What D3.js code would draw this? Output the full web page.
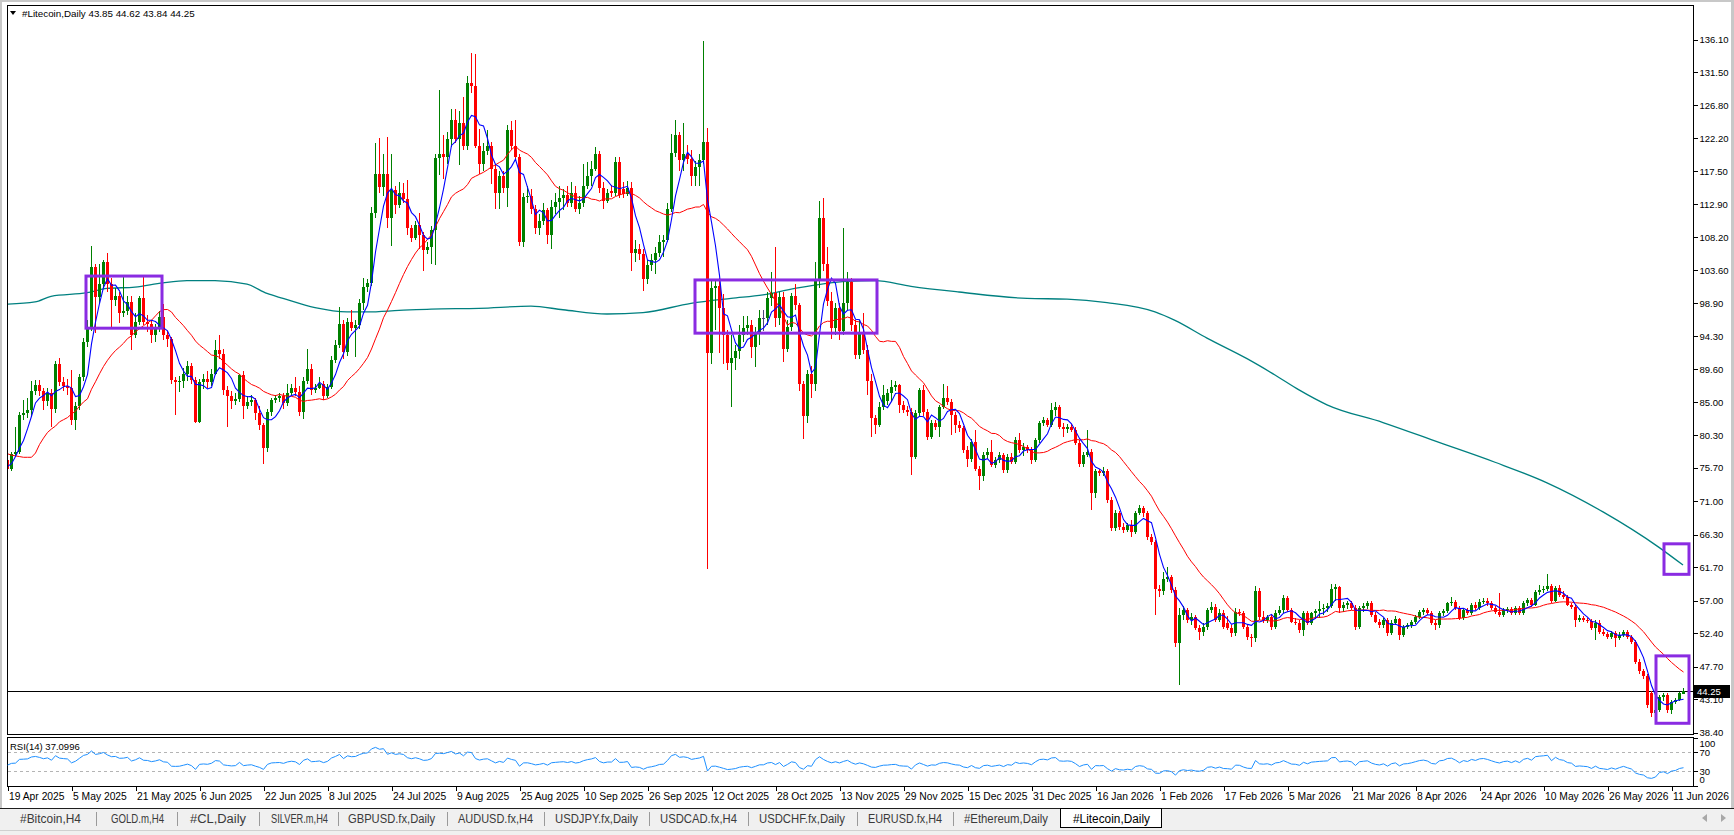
<!DOCTYPE html>
<html><head><meta charset="utf-8">
<script src="https://cdn.jsdelivr.net/npm/d3@7"></script>
<style>
body{margin:0;background:#fff;overflow:hidden}
svg{display:block}
text{font-family:"Liberation Sans",Arial,sans-serif}
</style></head>
<body><svg id="c" width="1734" height="835"></svg>
<script>
// ---------------- DATA ----------------
const symbolTitle = "#Litecoin,Daily";
const headerOHLC = "43.85 44.62 43.84 44.25";
const rsiLabel = "RSI(14) 37.0996";

const opens = [
76.8,75.6,77.7,78.0,83.1,83.4,83.8,86.6,87.4,86.5,
85.2,86.3,84.0,90.4,87.8,87.3,86.9,82.4,84.4,88.5,
93.5,95.5,104.0,99.8,101.6,104.8,101.7,99.4,99.9,97.5,
97.8,99.1,94.4,96.3,99.6,96.3,96.0,94.4,95.4,97.0,
94.4,93.9,88.1,87.8,88.0,89.0,90.1,88.1,82.2,87.8,
88.3,87.8,89.0,92.3,91.7,86.7,85.8,85.1,85.4,88.8,
84.4,85.0,85.3,83.4,81.7,78.5,83.6,85.3,85.6,85.8,
84.8,86.3,87.0,86.4,83.6,88.0,89.7,86.7,87.0,87.5,
85.8,87.1,90.9,93.0,96.0,92.0,96.3,95.4,95.8,98.9,
101.2,101.8,111.6,117.2,115.3,117.2,110.9,114.9,112.8,114.5,
113.6,109.5,108.1,109.9,108.5,106.4,106.9,109.2,119.4,120.0,
119.5,122.1,124.8,122.1,124.3,121.1,130.0,129.5,121.1,118.6,
120.4,121.1,117.9,114.4,116.9,115.2,123.3,121.1,119.6,107.5,
113.9,114.1,112.2,109.5,110.5,112.0,108.5,112.5,113.2,113.8,
114.2,113.0,114.4,112.2,113.0,115.4,116.9,117.9,119.9,115.2,
113.4,114.8,114.4,118.9,115.0,114.3,115.2,106.0,106.6,105.8,
102.3,104.3,105.0,106.0,107.5,107.8,112.2,120.1,122.6,119.1,
120.0,119.2,116.9,118.1,119.1,121.6,91.9,101.1,101.4,98.2,
94.5,90.5,91.2,92.2,94.4,95.4,95.9,92.7,94.6,96.9,
96.9,99.6,100.3,96.9,99.8,92.4,95.6,99.9,98.6,87.5,
83.0,89.0,87.5,102.1,111.0,104.5,99.3,95.4,98.3,95.0,
99.0,101.9,95.8,91.6,94.7,92.3,87.9,82.7,81.8,84.3,
85.2,86.2,87.1,87.4,84.6,83.9,83.6,77.3,83.4,86.7,
83.6,80.1,82.0,81.5,84.3,85.5,85.0,83.2,81.8,81.3,
78.2,77.0,79.4,75.6,74.5,77.5,78.0,76.1,76.8,77.5,
75.4,77.3,76.6,79.6,78.2,78.7,78.2,76.8,79.6,82.0,
82.4,81.8,83.9,84.3,81.5,81.2,81.5,81.1,79.2,76.3,
77.5,78.0,72.1,75.2,75.0,75.2,71.2,67.2,69.3,67.4,
67.0,67.6,66.7,69.3,70.0,69.3,66.0,65.3,58.7,58.3,
60.1,60.3,58.5,51.0,54.9,55.7,54.3,54.7,53.1,52.6,
53.3,55.7,56.1,54.3,55.2,53.8,53.1,52.4,55.4,55.2,
53.3,51.9,51.7,58.3,54.7,54.3,54.7,53.3,55.2,55.6,
57.3,55.7,54.0,53.8,52.8,55.2,53.8,55.2,55.5,55.8,
56.0,56.2,58.7,58.9,55.9,56.4,56.6,56.0,53.3,55.9,
56.3,56.6,55.0,54.0,53.5,54.2,52.4,53.9,54.4,52.1,
53.3,53.5,54.0,54.7,55.4,55.7,55.2,53.8,53.5,55.2,
55.5,56.6,56.8,55.9,54.5,55.7,55.2,56.4,55.9,56.8,
57.0,56.6,56.0,55.4,55.0,55.6,55.8,55.2,55.9,55.2,
56.6,57.1,56.4,58.2,58.5,58.7,59.0,57.0,58.8,57.8,
57.5,56.4,56.1,54.3,54.5,54.3,54.1,53.1,53.9,52.6,
52.3,51.9,52.4,51.7,52.2,52.6,51.9,51.2,48.4,47.0,
46.3,43.9,41.1,41.6,43.4,43.7,41.6,42.7,43.0,43.85];

const highs = [
77.3,78.0,81.5,83.6,85.3,85.5,88.0,88.1,88.1,87.0,
87.0,86.8,90.8,91.2,88.5,88.2,89.5,85.0,89.0,94.0,
96.5,107.0,104.5,104.5,105.0,106.0,102.5,101.0,100.5,102.6,
100.0,100.0,97.5,100.0,102.7,97.2,96.5,96.0,97.8,98.8,
95.0,94.2,88.5,88.6,89.8,90.8,90.5,88.5,88.2,89.0,
89.3,89.6,93.7,94.4,92.5,87.2,86.5,86.3,89.0,89.3,
85.8,86.0,85.6,84.5,82.0,84.0,85.6,86.0,86.2,86.2,
87.6,87.5,88.5,87.2,88.5,92.5,90.3,87.5,88.5,88.0,
87.6,91.5,93.8,98.4,96.5,96.8,97.9,96.5,99.5,102.5,
102.3,112.5,121.5,122.2,120.0,122.4,120.0,115.5,116.0,115.8,
116.3,110.0,110.5,111.6,109.0,107.5,109.8,120.0,129.0,122.6,
123.0,126.3,126.3,126.0,128.0,131.0,134.2,134.0,123.5,121.5,
123.3,121.6,118.5,117.5,117.5,124.0,124.6,124.7,120.0,114.5,
115.5,115.0,112.8,111.5,113.0,112.3,113.5,114.5,115.5,115.0,
115.5,116.0,115.5,114.0,118.6,118.8,119.0,120.9,120.4,116.0,
115.0,115.6,119.5,119.5,116.0,116.2,116.0,107.8,107.2,106.5,
105.0,105.8,106.8,108.5,108.5,113.0,122.8,124.8,123.0,124.3,
121.2,120.5,119.0,120.0,135.9,123.6,102.1,102.0,102.5,100.2,
95.2,94.4,93.0,95.9,97.1,97.1,96.5,95.5,98.0,98.0,
100.5,103.3,106.8,100.5,100.5,96.5,100.3,101.6,99.0,88.0,
89.5,90.0,104.8,113.4,113.7,106.8,100.5,99.0,99.0,109.5,
103.3,102.5,96.5,96.5,97.5,93.0,89.0,83.2,85.0,87.4,
86.8,88.1,87.9,87.6,85.2,84.5,84.2,83.8,87.0,87.4,
84.0,82.5,82.5,84.6,87.6,87.2,85.4,83.6,82.3,81.6,
78.8,79.8,81.0,76.0,78.0,78.5,79.6,77.2,78.0,77.8,
77.6,77.8,80.1,80.6,79.2,79.0,78.6,79.9,82.3,82.9,
82.8,84.8,85.0,84.6,82.0,81.9,81.9,81.5,79.6,78.0,
81.0,78.3,75.6,75.6,75.8,75.5,71.6,69.8,69.6,68.0,
68.0,68.3,69.6,70.5,70.3,69.6,66.4,65.6,59.2,61.0,
61.7,60.6,58.9,56.0,56.2,56.0,55.2,55.0,53.6,53.8,
56.0,56.8,56.5,55.8,55.6,54.8,53.5,56.0,55.8,55.5,
53.6,52.3,59.0,58.8,55.5,55.0,55.1,55.6,56.2,57.8,
57.6,56.0,54.6,54.2,55.5,55.5,55.4,55.8,57.0,56.5,
56.6,59.4,59.4,59.0,56.8,57.0,57.0,56.4,56.3,56.6,
57.0,56.9,55.4,54.4,54.6,54.5,54.2,54.8,54.6,53.6,
53.9,54.3,55.0,55.7,56.0,56.0,55.5,54.2,55.5,55.8,
56.8,57.5,57.1,56.2,56.0,56.0,56.7,56.8,57.2,57.4,
57.3,56.9,56.3,58.0,55.9,56.1,56.1,56.2,56.2,56.9,
57.4,57.4,58.5,59.2,59.0,60.7,59.3,59.1,59.2,58.3,
57.8,56.7,56.4,54.9,54.8,54.6,54.4,54.2,54.2,53.0,
52.6,52.7,52.7,52.5,52.9,52.9,52.2,51.5,48.7,47.4,
46.6,44.3,42.0,43.7,43.9,43.9,43.0,43.3,44.1,44.62];

const lows = [
74.3,75.3,77.2,77.6,82.5,82.8,83.0,86.0,85.8,83.8,
84.5,81.5,83.5,87.2,86.5,86.0,81.8,81.0,83.8,88.0,
92.8,95.0,94.7,99.0,101.0,100.5,95.6,98.5,96.1,97.0,
97.2,92.3,94.0,95.8,95.8,94.8,93.3,93.5,94.8,93.8,
92.8,87.5,83.2,86.4,87.0,88.0,87.5,82.0,82.0,86.8,
87.0,87.2,88.8,91.0,86.0,81.5,84.0,84.6,85.0,82.6,
84.0,84.5,82.5,81.0,76.3,78.0,83.0,84.8,85.0,84.0,
84.5,86.0,85.8,83.0,82.6,87.5,86.0,86.2,86.8,85.3,
85.5,86.8,90.5,92.6,91.0,91.5,95.0,91.4,95.3,98.0,
100.5,101.3,111.0,114.5,114.0,109.5,107.0,111.5,112.3,113.0,
108.5,107.5,107.8,106.6,103.4,105.8,104.5,104.3,117.0,116.4,
118.5,121.0,121.5,118.4,120.5,120.5,128.5,120.8,117.2,117.5,
119.8,115.7,112.2,112.2,114.5,112.5,120.5,119.0,107.0,106.8,
113.0,111.5,108.7,108.5,110.0,107.3,106.5,111.5,111.0,112.0,
112.5,112.5,111.8,111.5,112.5,115.0,115.5,117.5,114.5,112.2,
113.0,113.9,114.0,113.8,113.8,114.0,103.5,104.8,105.0,100.6,
101.6,103.5,103.0,105.5,105.5,107.5,111.8,119.5,117.6,117.6,
118.5,115.4,115.4,115.5,118.5,61.5,90.4,95.1,91.9,90.3,
89.5,84.3,89.5,91.0,93.5,94.5,91.2,89.9,93.0,95.0,
95.8,98.5,95.5,95.8,90.7,92.0,95.0,98.0,86.5,79.8,
82.0,85.5,86.5,101.0,103.5,98.5,93.9,94.5,93.8,94.5,
98.0,95.0,91.0,91.0,91.8,86.0,80.1,80.5,81.5,83.8,
84.6,85.0,86.6,83.4,83.5,83.0,74.7,77.0,83.0,83.0,
79.6,79.8,81.0,80.1,84.0,84.6,80.3,80.6,80.8,77.8,
75.9,76.5,75.2,72.6,73.8,77.0,75.8,75.7,76.4,75.0,
75.0,76.2,76.3,77.8,77.4,77.8,76.3,76.5,79.2,81.6,
81.4,81.5,83.0,81.2,80.0,80.6,80.8,79.0,75.8,75.9,
77.2,69.8,71.5,74.5,74.6,70.8,66.8,66.8,66.9,66.5,
66.6,66.0,66.4,69.0,68.8,65.6,64.8,54.9,57.5,57.8,
59.6,58.0,50.5,45.1,54.3,53.8,53.5,52.8,51.5,52.0,
52.9,55.3,54.0,54.0,53.0,52.8,51.8,52.0,54.8,53.0,
51.5,50.5,51.2,54.3,53.8,53.9,52.9,53.0,54.9,55.3,
55.4,53.8,53.5,52.4,52.0,53.6,53.5,54.4,54.5,55.0,
55.4,55.9,57.0,55.3,55.4,55.8,55.6,52.8,53.0,55.4,
55.8,54.7,53.8,53.2,53.2,52.0,52.1,53.6,51.4,51.8,
53.0,53.2,53.7,54.4,55.0,54.9,53.6,52.8,53.2,54.8,
55.2,56.2,55.6,54.2,54.2,54.9,55.0,55.6,55.6,56.5,
56.3,55.7,55.1,54.7,54.7,55.3,54.9,54.9,54.9,55.0,
56.3,56.1,56.2,57.8,58.0,58.4,56.7,56.8,57.5,57.2,
56.2,55.8,53.3,54.0,54.0,53.8,52.9,51.4,52.3,52.0,
51.6,51.6,50.5,51.4,51.9,51.6,50.9,48.1,46.7,46.0,
41.8,40.6,40.8,41.3,42.8,41.2,41.0,42.4,42.8,43.84];

const closes = [
75.6,77.7,78.0,83.1,83.4,83.8,86.6,87.4,86.5,85.2,
86.3,84.0,90.4,87.8,87.3,86.9,82.4,84.4,88.5,93.5,
95.5,104.0,99.8,101.6,104.8,101.7,99.4,99.9,97.5,97.8,
99.1,94.4,96.3,99.6,96.3,96.0,94.4,95.4,97.0,94.4,
93.9,88.1,87.8,88.0,89.0,90.1,88.1,82.2,87.8,88.3,
87.8,89.0,92.3,91.7,86.7,85.8,85.1,85.4,88.8,84.4,
85.0,85.3,83.4,81.7,78.5,83.6,85.3,85.6,85.8,84.8,
86.3,87.0,86.4,83.6,88.0,89.7,86.7,87.0,87.5,85.8,
87.1,90.9,93.0,96.0,92.0,96.3,95.4,95.8,98.9,101.2,
101.8,111.6,117.2,115.3,117.2,110.9,114.9,112.8,114.5,113.6,
109.5,108.1,109.9,108.5,106.4,106.9,109.2,119.4,120.0,119.5,
122.1,124.8,122.1,124.3,121.1,130.0,129.5,121.1,118.6,120.4,
121.1,117.9,114.4,116.9,115.2,123.3,121.1,119.6,107.5,113.9,
114.1,112.2,109.5,110.5,112.0,108.5,112.5,113.2,113.8,114.2,
113.0,114.4,112.2,113.0,115.4,116.9,117.9,119.9,115.2,113.4,
114.4,114.4,118.9,114.2,114.3,115.2,106.0,106.6,105.8,102.3,
104.3,105.0,106.0,107.5,107.8,112.2,120.1,122.6,119.1,120.0,
119.2,116.9,118.1,119.1,121.6,91.9,101.1,101.4,98.2,94.5,
90.5,91.2,92.2,94.4,95.4,95.9,92.7,94.6,96.9,96.9,
99.6,100.3,96.9,99.8,92.4,95.6,99.9,98.6,87.5,83.0,
89.0,87.5,102.1,111.0,104.5,99.3,95.4,98.3,95.0,99.0,
101.9,95.8,91.6,94.7,92.3,87.9,82.7,81.8,84.3,86.0,
86.2,87.1,87.4,84.6,83.9,83.6,77.3,83.4,86.7,83.6,
80.1,82.0,81.5,84.3,85.5,85.0,83.2,81.8,81.3,78.2,
77.0,79.4,75.6,74.5,77.5,78.0,76.1,76.8,77.5,75.4,
77.3,76.6,79.6,78.2,78.7,78.2,76.8,79.6,82.0,82.4,
81.8,83.9,84.3,81.5,81.2,81.5,81.1,79.2,76.3,77.5,
78.0,72.1,75.2,75.0,75.2,71.2,67.2,69.3,67.4,67.0,
67.6,66.7,69.3,70.0,69.3,66.0,65.3,58.7,58.3,60.1,
60.3,58.5,51.0,54.9,55.7,54.3,54.7,53.1,52.6,53.3,
55.7,56.1,54.3,55.2,53.3,53.1,52.4,55.4,55.2,53.3,
51.9,51.7,58.3,54.7,54.3,54.7,53.3,55.2,55.6,57.3,
55.7,54.0,53.8,52.8,55.2,53.8,55.2,55.5,55.8,56.0,
56.2,58.7,58.9,55.9,56.4,56.6,56.0,53.3,55.9,56.3,
56.6,55.0,54.0,53.5,54.2,52.4,53.9,54.4,52.1,53.3,
53.5,54.0,54.7,55.4,55.7,55.2,53.8,53.5,55.2,55.5,
56.6,56.8,55.9,54.5,55.7,55.2,56.4,55.9,56.8,57.0,
56.6,56.0,55.4,55.0,55.6,55.8,55.2,55.9,55.2,56.6,
57.1,56.4,58.2,58.5,58.7,59.0,57.0,58.8,57.8,57.5,
56.4,56.1,54.3,54.5,54.3,54.1,53.1,53.9,52.6,52.3,
51.9,52.4,51.7,52.2,52.6,51.9,51.2,48.4,47.0,46.3,
42.3,41.1,41.6,43.4,43.7,41.6,42.7,43.0,43.9,44.25];

const blueHead = [75.9,76.3,77.3,78.5];
const redHead = [77.7,77.5,77.4,77.3,77.2,77.2,77.2,77.8,79.0,79.9,
                 80.7,81.2,81.6,82.2,82.5,82.8,83.3,83.7,84.4,85.0];
// 200-period MA (teal), read at bar indices
const tealBars = [0,7,11,20,25,32,39,45,52,60,65,69,77,85,90,98,106,118,131,139,150,159,171,181,189,197,210,217,226,238,255,265,275,287,292,300,310,317,323,330,344,358,372,385,399,413,419];
const tealVals = [98.8,99.1,99.9,100.4,101.0,101.2,101.8,102.1,102.1,101.6,100.3,99.6,98.3,97.7,97.7,97.9,98.1,98.2,98.5,98.0,97.4,97.6,98.9,99.6,100.1,101.0,102.0,102.1,101.3,100.5,99.6,99.5,99.0,97.7,96.5,94.0,91.1,88.8,86.7,84.6,82.1,79.3,76.5,73.6,69.5,64.5,62.0];
const rsiStart = 43; // RSI value at the left edge

const priceTicks = [136.10,131.50,126.80,122.20,117.50,112.90,108.20,103.60,98.90,94.30,89.60,85.00,80.30,75.70,71.00,66.30,61.70,57.00,52.40,47.70,43.10,38.40];
const dateLabels = ["19 Apr 2025","5 May 2025","21 May 2025","6 Jun 2025","22 Jun 2025","8 Jul 2025","24 Jul 2025","9 Aug 2025","25 Aug 2025","10 Sep 2025","26 Sep 2025","12 Oct 2025","28 Oct 2025","13 Nov 2025","29 Nov 2025","15 Dec 2025","31 Dec 2025","16 Jan 2026","1 Feb 2026","17 Feb 2026","5 Mar 2026","21 Mar 2026","8 Apr 2026","24 Apr 2026","10 May 2026","26 May 2026","11 Jun 2026"];
const dateEvery = 16;
const rsiTicks = [100,70,30,0];
const rsiLevels = [70,30];
// boxes drawn on the chart: [bar from, bar to, price top, price bottom]
const boxBarFrom = [19.75,172,414.25,412.25];
const boxBarTo   = [38.75,217.5,420.5,420.5];
const boxTop     = [102.75,102.2,65.0,49.2];
const boxBottom  = [95.4,94.7,60.7,39.7];
const tabNames = ["#Bitcoin,H4","GOLD.m,H4","#CL,Daily","SILVER.m,H4","GBPUSD.fx,Daily","AUDUSD.fx,H4","USDJPY.fx,Daily","USDCAD.fx,H4","USDCHF.fx,Daily","EURUSD.fx,H4","#Ethereum,Daily","#Litecoin,Daily"];
const activeTab = "#Litecoin,Daily";

// ---------------- LAYOUT ----------------
const W = 1734, H = 835;
const L = 7, R = 1693, T = 5, B = 734;
const RT = 737, RB = 786;
const barStep = 4;
const svg = d3.select("#c");
const n = closes.length;

const x = d3.scaleLinear().domain([0, n - 1]).range([L, L + barStep * (n - 1)]);
const y = d3.scaleLinear().domain([38.40, 136.10]).range([732.5, 39.5]);
const ry = d3.scaleLinear().domain([0, 100]).range([785.5, 738]);

// window frame
svg.append("rect").attr("x",0).attr("y",0).attr("width",W).attr("height",H).attr("fill","#fff");
svg.append("rect").attr("x",0).attr("y",0).attr("width",W).attr("height",2).attr("fill","#c8c8c8");
svg.append("rect").attr("x",0).attr("y",0).attr("width",2).attr("height",808).attr("fill","#c8c8c8");
svg.append("rect").attr("x",W-3).attr("y",0).attr("width",3).attr("height",808).attr("fill","#c8c8c8");

const crisp = svg.append("g").attr("shape-rendering","crispEdges");
// panels
crisp.append("rect").attr("x",L+0.5).attr("y",T+0.5).attr("width",R-L).attr("height",B-T)
  .attr("fill","none").attr("stroke","#000");
crisp.append("rect").attr("x",L+0.5).attr("y",RT+0.5).attr("width",R-L).attr("height",RB-RT)
  .attr("fill","none").attr("stroke","#000");

// ---------------- indicators ----------------
function sma(arr, p, head) {
  return arr.map((v, i) => {
    if (i < p - 1) return head[i];
    let s = 0; for (let k = i - p + 1; k <= i; k++) s += arr[k];
    return s / p;
  });
}
const blueMA = sma(closes, 5, blueHead);
const redMA = sma(closes, 21, redHead);

function rsi(c, p, start) {
  let ag = 2.4 * start / 100, al = 2.4 * (100 - start) / 100;
  const out = [start];
  for (let i = 1; i < c.length; i++) {
    const d = c[i] - c[i - 1];
    ag = (ag * (p - 1) + Math.max(d, 0)) / p;
    al = (al * (p - 1) + Math.max(-d, 0)) / p;
    out.push(al === 0 ? 100 : 100 - 100 / (1 + ag / al));
  }
  return out;
}
const rsiVals = rsi(closes, 14, rsiStart);

// ---------------- main panel ----------------
const main = svg.append("g");
main.append("clipPath").attr("id","mclip").append("rect")
  .attr("x",L+1).attr("y",T+1).attr("width",R-L-1).attr("height",B-T-1);
const mg = main.append("g").attr("clip-path","url(#mclip)");

// teal MA200
mg.append("path").datum(tealBars.map((b,i)=>[b,tealVals[i]]))
  .attr("fill","none").attr("stroke","#008080").attr("stroke-width",1.3)
  .attr("d", d3.line().x(d=>x(d[0])).y(d=>y(d[1])).curve(d3.curveMonotoneX));

// candles
const bars = closes.map((c,i)=>({i,o:opens[i],h:highs[i],l:lows[i],c}));
const col = d => d.c > d.o ? "#008000" : (d.c < d.o ? "#ff0000" : "#4a4a7a");
const cg = mg.append("g").attr("shape-rendering","crispEdges");
cg.selectAll("line.w").data(bars).join("line").attr("class","w")
  .attr("x1",d=>Math.round(x(d.i))+0.5).attr("x2",d=>Math.round(x(d.i))+0.5)
  .attr("y1",d=>y(d.h)).attr("y2",d=>y(d.l)).attr("stroke",col).attr("stroke-width",1);
cg.selectAll("rect.b").data(bars).join("rect").attr("class","b")
  .attr("x",d=>Math.round(x(d.i))-1).attr("width",3)
  .attr("y",d=>y(Math.max(d.o,d.c)))
  .attr("height",d=>Math.max(1, y(Math.min(d.o,d.c)) - y(Math.max(d.o,d.c))))
  .attr("fill",col);

// current price line
const last = closes[n-1];
crisp.append("line").attr("x1",L).attr("x2",R).attr("y1",Math.round(y(last))+0.5).attr("y2",Math.round(y(last))+0.5)
  .attr("stroke","#000");

// red & blue MAs
mg.append("path").datum(redMA).attr("fill","none").attr("stroke","#ff0000").attr("stroke-width",1)
  .attr("d", d3.line().x((d,i)=>x(i)+0.5).y(d=>y(d)));
mg.append("path").datum(blueMA).attr("fill","none").attr("stroke","#0000ff").attr("stroke-width",1.1)
  .attr("d", d3.line().x((d,i)=>x(i)+0.5).y(d=>y(d)));

// boxes
mg.selectAll("rect.box").data(boxBarFrom.map((b,i)=>i)).join("rect").attr("class","box")
  .attr("x",i=>x(boxBarFrom[i])).attr("width",i=>x(boxBarTo[i])-x(boxBarFrom[i]))
  .attr("y",i=>y(boxTop[i])).attr("height",i=>y(boxBottom[i])-y(boxTop[i]))
  .attr("fill","none").attr("stroke","#8a2be2").attr("stroke-width",3);

// price axis
const pAxis = svg.append("g").attr("transform",`translate(${R+0.5},0)`)
  .call(d3.axisRight(y).tickValues(priceTicks).tickSize(4).tickPadding(2).tickFormat(d3.format(".2f")));
pAxis.select(".domain").remove();
pAxis.selectAll("line").attr("stroke","#000").attr("shape-rendering","crispEdges");
pAxis.selectAll("text").attr("fill","#000").style("font-size","9.5px").attr("font-family",null);

// current price tag
const ly = Math.round(y(last));
svg.append("rect").attr("x",R+1).attr("y",ly-6).attr("width",36).attr("height",13).attr("fill","#000");
svg.append("text").attr("x",R+4).attr("y",ly+4).attr("fill","#fff").style("font-size","9.5px")
  .text(d3.format(".2f")(last));

// header
svg.append("path").attr("d","M10,11 L16,11 L13,15 Z").attr("fill","#000");
svg.append("text").attr("x",22).attr("y",16.5).style("font-size","9.8px").attr("fill","#000")
  .text(symbolTitle + "  " + headerOHLC);

// ---------------- RSI panel ----------------
const rg = svg.append("g");
rg.selectAll("line.lvl").data(rsiLevels).join("line").attr("class","lvl")
  .attr("x1",L+1).attr("x2",R).attr("y1",d=>Math.round(ry(d))+0.5).attr("y2",d=>Math.round(ry(d))+0.5)
  .attr("stroke","#b4b4b4").attr("stroke-dasharray","3,3").attr("shape-rendering","crispEdges");
rg.append("path").datum(rsiVals).attr("fill","none").attr("stroke","#1e90ff").attr("stroke-width",1)
  .attr("d", d3.line().x((d,i)=>x(i)+0.5).y(d=>ry(d)));
rg.append("text").attr("x",10).attr("y",750).style("font-size","9.5px").attr("fill","#000").text(rsiLabel);
const rAxis = svg.append("g").attr("transform",`translate(${R+0.5},0)`)
  .call(d3.axisRight(ry).tickValues(rsiTicks).tickSize(4).tickPadding(2));
rAxis.select(".domain").remove();
rAxis.selectAll("line").attr("stroke","#000").attr("shape-rendering","crispEdges");
rAxis.selectAll("text").attr("fill","#000").style("font-size","9.5px").attr("font-family",null)
  .attr("dy",d=> d===100 ? "0.85em" : (d===0 ? "-0.3em" : "0.32em"));

// ---------------- date axis ----------------
const dAxis = svg.append("g").attr("transform",`translate(0.5,${RB+0.5})`)
  .call(d3.axisBottom(x).tickValues(dateLabels.map((d,i)=>i*dateEvery)).tickSize(4).tickPadding(2)
    .tickFormat((d,i)=>dateLabels[i]));
dAxis.select(".domain").remove();
dAxis.selectAll("line").attr("stroke","#000").attr("shape-rendering","crispEdges");
dAxis.selectAll("text").attr("text-anchor","start").attr("dx","1").attr("fill","#000")
  .style("font-size","10.3px").attr("font-family",null);

// ---------------- tabs ----------------
const tabX = [20,111,190,271,348,458,555,660,759,868,964,1073];   // text start positions
const tabW = [61,53,56,57,87,75,83,77,86,74,84,77];                // text widths
const tb = svg.append("g");
tb.append("rect").attr("x",0).attr("y",808).attr("width",W).attr("height",H-808).attr("fill","#f0f0f0");
tb.append("line").attr("x1",0).attr("x2",W).attr("y1",808.5).attr("y2",808.5).attr("stroke","#1e1e1e").attr("shape-rendering","crispEdges");
tb.append("line").attr("x1",0).attr("x2",W).attr("y1",830.5).attr("y2",830.5).attr("stroke","#d0d0d0").attr("shape-rendering","crispEdges");
tabNames.forEach((name, i) => {
  const active = name === activeTab;
  if (active) {
    tb.append("rect").attr("x", tabX[i]-12.5).attr("y", 808.5).attr("width", tabW[i]+24).attr("height", 19)
      .attr("fill","#fff").attr("stroke","#000").attr("shape-rendering","crispEdges");
  }
  tb.append("text").attr("x", tabX[i]).attr("y", 822.5).style("font-size","12px")
    .attr("fill", active ? "#000" : "#3a3a3a")
    .attr("textLength", tabW[i]).attr("lengthAdjust","spacingAndGlyphs").text(name);
  if (i < tabNames.length - 2) {
    const sx = Math.round((tabX[i] + tabW[i] + tabX[i+1]) / 2) + 0.5;
    tb.append("line").attr("x1", sx).attr("x2", sx).attr("y1", 812).attr("y2", 826)
      .attr("stroke","#9a9a9a").attr("shape-rendering","crispEdges");
  }
});
// scroll arrows
tb.append("path").attr("d","M1702,818 L1707,814 L1707,822 Z").attr("fill","#a8a8a8");
tb.append("path").attr("d","M1726,818 L1721,814 L1721,822 Z").attr("fill","#a8a8a8");
</script>
</body></html>
